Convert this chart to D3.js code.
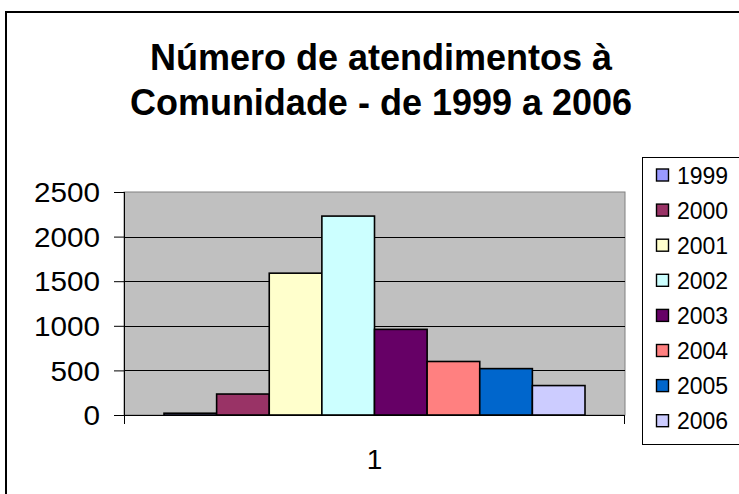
<!DOCTYPE html>
<html>
<head>
<meta charset="utf-8">
<script src="https://cdn.jsdelivr.net/npm/d3@7"></script>
<style>
  html, body { margin: 0; padding: 0; background: #fff; }
  svg { display: block; }
</style>
</head>
<body>
<svg id="chart" width="739" height="494"></svg>
<script>
const titleLines = ["Número de atendimentos à", "Comunidade - de 1999 a 2006"];
const categories = ["1"];
const years = ["1999", "2000", "2001", "2002", "2003", "2004", "2005", "2006"];
const values = [20, 235, 1590, 2230, 960, 600, 520, 330];
const colors = ["#9999FF", "#993366", "#FFFFCC", "#CCFFFF", "#660066", "#FF8080", "#0066CC", "#CCCCFF"];
const yTicks = [0, 500, 1000, 1500, 2000, 2500];

const svg = d3.select("#chart");
const W = 739, H = 494;
const plot = { left: 124, right: 625, top: 192, bottom: 415 };
const FONT = "'Liberation Sans', Arial, sans-serif";

// outer chart border
svg.append("rect")
  .attr("x", 6).attr("y", 12).attr("width", W + 10).attr("height", H + 10)
  .attr("fill", "#fff").attr("stroke", "#000").attr("stroke-width", 2);

// title
const title = svg.append("text")
  .attr("text-anchor", "middle")
  .attr("font-family", FONT)
  .attr("font-weight", "bold").attr("font-size", 36).attr("fill", "#000");
titleLines.forEach((t, i) => {
  title.append("tspan").attr("x", 381).attr("y", 70 + i * 45).text(t);
});

const y = d3.scaleLinear().domain([0, 2500]).range([plot.bottom, plot.top]);
const x0 = d3.scaleBand().domain(categories).range([plot.left, plot.right])
  .paddingInner(0).paddingOuter(0.095);
const x1 = d3.scaleBand().domain(years).range([0, x0.bandwidth()]).padding(0);

// plot area background
svg.append("rect")
  .attr("x", plot.left).attr("y", plot.top)
  .attr("width", plot.right - plot.left).attr("height", plot.bottom - plot.top)
  .attr("fill", "#C0C0C0").attr("stroke", "#808080").attr("stroke-width", 1);

// gridlines
svg.append("g").selectAll("line").data(yTicks.filter(d => d > 0 && d < 2500)).join("line")
  .attr("x1", plot.left).attr("x2", plot.right)
  .attr("y1", d => Math.round(y(d)) + 0.5).attr("y2", d => Math.round(y(d)) + 0.5)
  .attr("stroke", "#000").attr("stroke-width", 1);

// bars
const data = years.map((yr, i) => ({ year: yr, value: values[i], color: colors[i], cat: categories[0] }));
svg.append("g").selectAll("rect").data(data).join("rect")
  .attr("x", d => x0(d.cat) + x1(d.year))
  .attr("y", d => y(d.value))
  .attr("width", x1.bandwidth())
  .attr("height", d => y(0) - y(d.value))
  .attr("fill", d => d.color)
  .attr("stroke", "#000").attr("stroke-width", 1.6);

// y axis
const sx = 1.1;
const yAxis = svg.append("g")
  .attr("transform", `translate(${plot.left},0)`)
  .call(d3.axisLeft(y).tickValues(yTicks).tickFormat(d3.format("d")).tickSize(10).tickSizeOuter(0));
yAxis.select(".domain").remove();
yAxis.selectAll(".tick line").attr("stroke", "#000");
yAxis.selectAll(".tick text")
  .attr("font-family", FONT)
  .attr("font-size", 27).attr("fill", "#000")
  .attr("x", -24 / sx)
  .attr("transform", `scale(${sx},1)`)
  .attr("dy", "0.36em");
svg.append("line")
  .attr("x1", plot.left + 0.5).attr("x2", plot.left + 0.5)
  .attr("y1", plot.top).attr("y2", plot.bottom + 9)
  .attr("stroke", "#000").attr("stroke-width", 1);

// x axis
const xAxis = svg.append("g")
  .attr("transform", `translate(0,${plot.bottom})`)
  .call(d3.axisBottom(x0).tickSize(0).tickPadding(34));
xAxis.select(".domain").remove();
xAxis.selectAll(".tick text")
  .attr("font-family", FONT)
  .attr("font-size", 28).attr("fill", "#000");
svg.append("line")
  .attr("x1", plot.left).attr("x2", plot.right)
  .attr("y1", plot.bottom + 0.5).attr("y2", plot.bottom + 0.5)
  .attr("stroke", "#000").attr("stroke-width", 1);
svg.append("line")
  .attr("x1", plot.right - 0.5).attr("x2", plot.right - 0.5)
  .attr("y1", plot.bottom).attr("y2", plot.bottom + 9)
  .attr("stroke", "#000").attr("stroke-width", 1);

// legend
const legend = svg.append("g");
legend.append("rect")
  .attr("x", 642.5).attr("y", 157.5).attr("width", 110).attr("height", 287)
  .attr("fill", "#fff").attr("stroke", "#000").attr("stroke-width", 1);
const items = legend.selectAll("g.item").data(data).join("g")
  .attr("class", "item")
  .attr("transform", (d, i) => `translate(0,${175.5 + i * 35.1})`);
items.append("rect")
  .attr("x", 656.5).attr("y", -6.5).attr("width", 12).attr("height", 12)
  .attr("fill", d => d.color).attr("stroke", "#000").attr("stroke-width", 1.4);
items.append("text")
  .attr("x", 677).attr("y", 0).attr("dy", "0.36em")
  .attr("font-family", FONT)
  .attr("font-size", 23).attr("fill", "#000")
  .text(d => d.year);
</script>
</body>
</html>
